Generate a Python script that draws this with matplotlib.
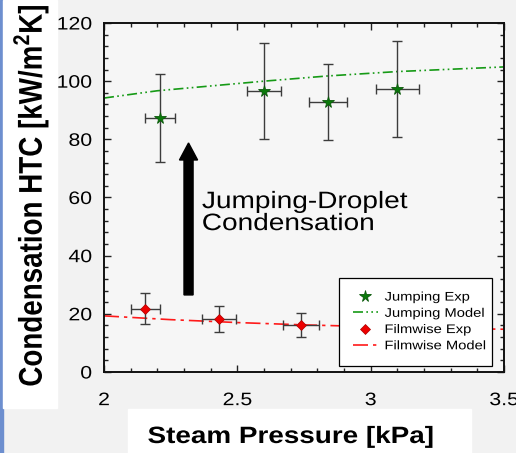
import matplotlib
matplotlib.use('Agg')
import matplotlib.pyplot as plt
from matplotlib.patches import Rectangle
from matplotlib.patheffects import AbstractPathEffect
from matplotlib.transforms import Affine2D
from matplotlib.ticker import MultipleLocator

plt.rcParams['font.family'] = ['Liberation Sans', 'DejaVu Sans']

# experimental points (pressure kPa, HTC kW/m2K) with error bars
jump_p = [2.21, 2.60, 2.84, 3.10]
jump_htc = [87.3, 96.6, 92.8, 97.3]
jump_perr = [0.056, 0.064, 0.070, 0.080]
jump_herr = [15.0, 16.5, 13.0, 16.5]

film_p = [2.155, 2.43, 2.74]
film_htc = [21.7, 18.2, 16.2]
film_perr = [0.054, 0.064, 0.068]
film_herr = [5.3, 4.6, 4.1]

# model curves
jmod_p = [2.0, 2.2, 2.6, 2.84, 3.1, 3.5]
jmod_htc = [94.2, 96.7, 100.0, 101.8, 103.3, 104.9]
fmod_p = [2.0, 2.25, 2.5, 2.75, 3.0, 3.25, 3.5]
fmod_htc = [19.3, 18.0, 17.0, 16.2, 15.6, 15.1, 14.7]

x_ticks = [2, 2.5, 3, 3.5]
x_ticklabels = ['2', '2.5', '3', '3.5']

SX = 1.18  # the slide text is a bit wider than plain Arial


class Stretch(AbstractPathEffect):
    """widen text horizontally around its left / centre / right edge"""
    def __init__(self, where='center', sx=SX):
        super().__init__()
        self.where = where
        self.sx = sx

    def draw_path(self, renderer, gc, tpath, affine, rgbFace=None):
        ext = tpath.get_extents(affine)
        if self.where == 'left':
            cx = ext.x0
        elif self.where == 'right':
            cx = ext.x1
        else:
            cx = 0.5 * (ext.x0 + ext.x1)
        t = affine + Affine2D().translate(-cx, 0).scale(self.sx, 1).translate(cx, 0)
        renderer.draw_path(gc, tpath, t, rgbFace)


W, H = 516, 453
fig = plt.figure(figsize=(W / 100, H / 100), dpi=100)
fig.patch.set_facecolor('#f2f2f2')

# slide decoration: blue strip and white label boxes
fig.patches.append(Rectangle((0, 0), 3 / W, 1, transform=fig.transFigure,
                             color='#6d8fcf', zorder=0))
fig.patches.append(Rectangle((3 / W, 1 - 408 / H), 54 / W, 408 / H,
                             transform=fig.transFigure, color='white', zorder=0))
fig.patches.append(Rectangle((128 / W, 0), 343 / W, 44 / H,
                             transform=fig.transFigure, color='white', zorder=0))

ax = fig.add_axes([104 / W, 1 - 372 / H, 400 / W, 349 / H])
ax.set_facecolor('#f6f6f6')

ax.plot(jmod_p, jmod_htc, color='#169a16', lw=1.2,
        linestyle=(0, (6, 2, 1, 2, 1, 2)), label='Jumping Model', zorder=2)
ax.plot(fmod_p, fmod_htc, color='#ff1a1a', lw=1.2,
        linestyle=(0, (9, 3, 2, 3)), label='Filmwise Model', zorder=2)

ax.errorbar(jump_p, jump_htc, xerr=jump_perr, yerr=jump_herr, fmt='none',
            ecolor='#3c3c3c', elinewidth=1, capsize=3.6, zorder=3)
ax.errorbar(film_p, film_htc, xerr=film_perr, yerr=film_herr, fmt='none',
            ecolor='#3c3c3c', elinewidth=1, capsize=3.6, zorder=3)
ax.plot(jump_p, jump_htc, '*', color='#0a7a0a', markersize=8.5,
        markeredgecolor='#0b5a0b', markeredgewidth=0.6, linestyle='none',
        label='Jumping Exp', zorder=4)
ax.plot(film_p, film_htc, 'D', color='#ee0000', markersize=5.5,
        markeredgecolor='#aa0000', markeredgewidth=0.5, linestyle='none',
        label='Filmwise Exp', zorder=4)

ax.arrow(2.317, 26.5, 0, 46.4, width=0.034, head_width=0.068,
         head_length=5.85, color='black', zorder=3)
# va='baseline' pins the last line's baseline
note = ax.text(2.3675, 48.8, 'Jumping-Droplet\nCondensation', fontsize=17.1,
               va='baseline', ha='left', linespacing=1.0)
note.set_path_effects([Stretch('left')])

ax.set_xlim(2, 3.5)
ax.set_ylim(0, 120)
ax.xaxis.set_minor_locator(MultipleLocator(0.1))
ax.yaxis.set_major_locator(MultipleLocator(20))
ax.yaxis.set_minor_locator(MultipleLocator(4))
ax.set_xticks(x_ticks)
ax.set_xticklabels(x_ticklabels)
ax.tick_params(which='both', direction='in', top=True, right=True,
               labelsize=13, width=1, color='#222222')
ax.tick_params(which='major', length=5)
ax.tick_params(which='minor', length=3)
ax.tick_params(axis='x', pad=14.5)
ax.tick_params(axis='y', pad=8.6)
for s in ax.spines.values():
    s.set_linewidth(1.4)
    s.set_color('#111111')
for lab in ax.get_xticklabels():
    lab.set_path_effects([Stretch('center')])
for lab in ax.get_yticklabels():
    lab.set_path_effects([Stretch('right')])

handles, labels = ax.get_legend_handles_labels()
order = ['Jumping Exp', 'Jumping Model', 'Filmwise Exp', 'Filmwise Model']
hl = {l: h for h, l in zip(handles, labels)}
leg = ax.legend([hl[o] for o in order], order, loc='lower left',
                bbox_to_anchor=(0.5875, 0.017, 0.3825, 0.24), mode='expand',
                borderaxespad=0, fontsize=9.0, fancybox=False,
                edgecolor='black', framealpha=1, labelspacing=0.34,
                handlelength=2.0, handletextpad=0.55, borderpad=1.1)
leg.get_frame().set_linewidth(0.9)
leg.set_zorder(5)
for t in leg.get_texts():
    t.set_path_effects([Stretch('left')])

yl = fig.text(31 / W, 1 - 195.5 / H, 'Condensation HTC [kW/m$^\\mathregular{2}$K]',
              rotation=90, ha='center', va='center', fontsize=20,
              fontweight='bold')
yl.set_path_effects([Stretch('center')])
xl = fig.text(291 / W, 10 / H, 'Steam Pressure [kPa]', ha='center',
              va='baseline', fontsize=17, fontweight='bold')
xl.set_path_effects([Stretch('center')])

fig.savefig('out.png', dpi=100, facecolor=fig.get_facecolor())
